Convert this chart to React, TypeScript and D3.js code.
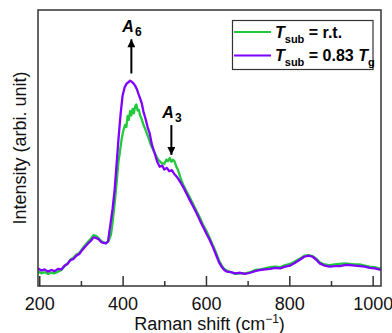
import { useRef, useEffect } from 'react';
import * as d3 from 'd3';

// Raman spectra (arbitrary intensity units, 0-100 frame height)
const shiftRT = [197, 205, 213, 221, 229, 237, 245, 253, 261, 268, 275, 282, 289, 296, 303, 310, 317, 324, 330, 336, 342, 348, 354, 360, 366, 372, 376, 381, 386, 390, 393, 398, 402, 406, 409, 412, 415, 418, 421, 424, 427, 430, 433, 436, 439, 442, 446, 450, 455, 461, 468, 477, 485, 493, 500, 505, 509, 513, 517, 521, 525, 529, 533, 539, 545, 553, 561, 570, 578, 586, 593, 601, 609, 617, 626, 632, 638, 644, 650, 660, 670, 682, 694, 706, 718, 730, 742, 754, 766, 778, 790, 802, 814, 826, 836, 846, 856, 864, 873, 884, 897, 909, 921, 933, 945, 957, 969, 981, 993, 1005, 1020];
const intRT = [5.2, 4.6, 5.0, 4.4, 4.8, 4.6, 5.2, 5.8, 7.2, 8.2, 9.6, 10.2, 11.4, 12.0, 13.4, 14.8, 16.0, 17.2, 18.4, 18.2, 17.4, 16.4, 15.8, 15.6, 16.2, 18.5, 23, 30, 38, 45, 48, 53.5, 56.5, 58.4, 57.6, 61.6, 60.2, 63.4, 61.8, 64.2, 62.6, 65.0, 65.8, 63.6, 63.8, 61.8, 60.4, 58.4, 56.6, 54.1, 51.0, 48.2, 45.8, 44.6, 44.2, 45.8, 45.2, 46.4, 45.0, 45.8, 45.0, 43.2, 42.0, 39.2, 36.8, 34.4, 32.2, 29.4, 27.0, 24.6, 22.2, 20.0, 17.4, 14.6, 11.4, 9.0, 7.4, 6.2, 5.6, 5.0, 4.4, 4.6, 4.6, 5.0, 5.8, 6.0, 6.4, 6.8, 7.0, 6.8, 7.6, 8.0, 9.0, 10.0, 11.0, 11.2, 10.8, 10.0, 8.6, 7.8, 7.6, 7.8, 8.0, 8.2, 8.0, 7.8, 7.8, 7.4, 7.0, 6.8, 6.2];

const shiftTg = [197, 205, 213, 221, 229, 237, 245, 253, 261, 268, 275, 282, 289, 296, 303, 310, 317, 324, 330, 336, 342, 348, 354, 360, 365, 370, 376, 381, 386, 390, 395, 400, 405, 410, 414, 418, 422, 426, 430, 434, 438, 442, 446, 450, 455, 460, 465, 470, 477, 483, 489, 495, 500, 506, 512, 518, 524, 530, 537, 545, 553, 561, 570, 578, 586, 593, 601, 609, 617, 626, 632, 638, 644, 650, 660, 670, 682, 694, 706, 718, 730, 742, 754, 766, 778, 790, 802, 814, 826, 836, 846, 856, 864, 873, 884, 897, 909, 921, 933, 945, 957, 969, 981, 993, 1005, 1020];
const intTg = [6.4, 5.6, 6.0, 5.2, 5.8, 5.4, 6.2, 6.0, 7.4, 8.0, 9.4, 9.8, 11.0, 11.6, 13.0, 14.2, 15.4, 16.4, 17.6, 17.4, 17.0, 16.0, 15.6, 15.4, 16.2, 21.5, 28, 35, 45, 53, 62, 69, 72, 73.4, 73.8, 74.4, 74.0, 73.4, 72.6, 71.4, 69.6, 68.0, 66.2, 63.2, 60.6, 57.6, 55.3, 51.4, 48.1, 45.0, 43.2, 43.6, 42.2, 42.8, 41.6, 42.0, 40.6, 39.6, 38.0, 36.0, 33.6, 31.2, 28.6, 26.3, 23.6, 21.5, 19.0, 16.7, 14.0, 10.6, 8.4, 6.9, 5.8, 5.2, 5.0, 4.6, 4.8, 4.4, 4.8, 5.4, 5.8, 6.0, 6.2, 6.6, 6.4, 7.0, 7.4, 8.4, 9.6, 10.6, 11.0, 10.6, 9.6, 8.2, 7.4, 7.0, 7.2, 7.2, 7.6, 7.6, 7.4, 7.2, 7.0, 6.6, 6.4, 5.8];

const majorTicks = [200, 400, 600, 800, 1000];
const minorTicks = [300, 500, 700, 900];

// peak markers: position, subscript, arrow tail and tip intensities
const peaks = [
  { name: '6', shift: 421, from: 77, to: 89.4 },
  { name: '3', shift: 517, from: 58.3, to: 47.5 },
];

const GREEN = '#22c93a';
const PURPLE = '#7f00ff';
const AXIS = '#333';
const FONT = '"Liberation Sans", Arial, sans-serif';

export default function App() {
  const ref = useRef<SVGSVGElement>(null);

  useEffect(() => {
    const svg = d3.select(ref.current);
    svg.selectAll('*').remove();

    const m = { left: 38, right: 381, top: 10, bottom: 286 };
    const x = d3.scaleLinear().domain([197, 1020]).range([m.left, m.right]);
    const y = d3.scaleLinear().domain([0, 100]).range([m.bottom, m.top]);

    const clip = svg.append('clipPath').attr('id', 'plotclip');
    clip.append('rect').attr('x', m.left).attr('y', m.top).attr('width', m.right - m.left).attr('height', m.bottom - m.top);

    const line = d3
      .line<[number, number]>()
      .x((d) => x(d[0]))
      .y((d) => y(d[1]));

    const g = svg.append('g').attr('clip-path', 'url(#plotclip)');
    g.append('path')
      .attr('d', line(shiftRT.map((s, i) => [s, intRT[i]])))
      .attr('fill', 'none')
      .attr('stroke', GREEN)
      .attr('stroke-width', 2.3)
      .attr('stroke-linejoin', 'round');
    g.append('path')
      .attr('d', line(shiftTg.map((s, i) => [s, intTg[i]])))
      .attr('fill', 'none')
      .attr('stroke', PURPLE)
      .attr('stroke-width', 2.3)
      .attr('stroke-linejoin', 'round');

    // axes (ticks inward)
    svg
      .append('g')
      .attr('transform', `translate(0,${m.bottom})`)
      .call(d3.axisBottom(x).tickValues(majorTicks).tickSizeInner(-10).tickSizeOuter(0).tickPadding(11).tickFormat(d3.format('d')))
      .call((s) => s.select('.domain').remove())
      .call((s) => s.selectAll('line').attr('stroke', AXIS).attr('stroke-width', 1.5))
      .call((s) => s.selectAll('text').attr('fill', '#111').style('font-size', '18px').style('font-family', FONT));
    svg
      .append('g')
      .attr('transform', `translate(0,${m.bottom})`)
      .call(d3.axisBottom(x).tickValues(minorTicks).tickSizeInner(-5).tickSizeOuter(0).tickFormat(() => ''))
      .call((s) => s.select('.domain').remove())
      .call((s) => s.selectAll('line').attr('stroke', AXIS).attr('stroke-width', 1.5));

    svg
      .append('rect')
      .attr('x', m.left)
      .attr('y', m.top)
      .attr('width', m.right - m.left)
      .attr('height', m.bottom - m.top)
      .attr('fill', 'none')
      .attr('stroke', AXIS)
      .attr('stroke-width', 1.5);

    // axis titles
    const xt = svg
      .append('text')
      .attr('x', (m.left + m.right) / 2)
      .attr('y', 330)
      .attr('text-anchor', 'middle')
      .attr('fill', '#111')
      .style('font-family', FONT)
      .style('font-size', '18px');
    xt.append('tspan').text('Raman shift (cm');
    xt.append('tspan').attr('dy', -7).style('font-size', '12px').text('\u22121');
    xt.append('tspan').attr('dy', 7).text(')');

    svg
      .append('text')
      .attr('transform', `translate(26,${(m.top + m.bottom) / 2}) rotate(-90)`)
      .attr('text-anchor', 'middle')
      .attr('fill', '#111')
      .style('font-family', FONT)
      .style('font-size', '18px')
      .text('Intensity (arbi. unit)');

    // peak arrows
    const defs = svg.append('defs');
    defs
      .append('marker')
      .attr('id', 'head')
      .attr('viewBox', '0 0 10 10')
      .attr('refX', 10)
      .attr('refY', 5)
      .attr('markerUnits', 'userSpaceOnUse')
      .attr('markerWidth', 12)
      .attr('markerHeight', 8)
      .attr('orient', 'auto')
      .append('path')
      .attr('d', 'M0,0L10,5L0,10Z')
      .attr('fill', '#000');

    peaks.forEach((p) => {
      const ax = x(p.shift);
      svg
        .append('line')
        .attr('x1', ax)
        .attr('x2', ax)
        .attr('y1', y(p.from))
        .attr('y2', y(p.to))
        .attr('stroke', '#000')
        .attr('stroke-width', 2)
        .attr('marker-end', 'url(#head)');
      const top = Math.min(y(p.from), y(p.to));
      const t = svg
        .append('text')
        .attr('x', ax - 9)
        .attr('y', top - 7)
        .attr('fill', '#000')
        .style('font-family', FONT)
        .style('font-weight', 'bold');
      t.append('tspan').style('font-style', 'italic').style('font-size', '16px').text('A');
      t.append('tspan').attr('dx', 1).attr('dy', 4).style('font-size', '12px').text(p.name);
    });

    // legend
    const lg = svg.append('g');
    lg.append('rect')
      .attr('x', 232.5)
      .attr('y', 20.5)
      .attr('width', 140.5)
      .attr('height', 49)
      .attr('fill', '#fff')
      .attr('stroke', AXIS)
      .attr('stroke-width', 1.2);
    const rows = [
      { color: GREEN, y: 32, rest: ' = r.t.', tail: false },
      { color: PURPLE, y: 55.5, rest: ' = 0.83 ', tail: true },
    ];
    rows.forEach((r) => {
      lg.append('line')
        .attr('x1', 234)
        .attr('x2', 271)
        .attr('y1', r.y)
        .attr('y2', r.y)
        .attr('stroke', r.color)
        .attr('stroke-width', 1.8);
      const t = lg
        .append('text')
        .attr('x', 275)
        .attr('y', r.y + 5.5)
        .attr('fill', '#000')
        .style('font-family', FONT)
        .style('font-weight', 'bold')
        .style('font-size', '16px');
      t.append('tspan').style('font-style', 'italic').text('T');
      t.append('tspan').attr('dy', 5).style('font-size', '11px').text('sub');
      t.append('tspan').attr('dy', -5).text(r.rest);
      if (r.tail) {
        t.append('tspan').style('font-style', 'italic').text('T');
        t.append('tspan').attr('dy', 5).style('font-size', '11px').text('g');
      }
    });
  }, []);

  return (
    <svg
      ref={ref}
      width={392}
      height={333}
      style={{ position: 'absolute', left: 0, top: 0, background: '#fff' }}
    />
  );
}
